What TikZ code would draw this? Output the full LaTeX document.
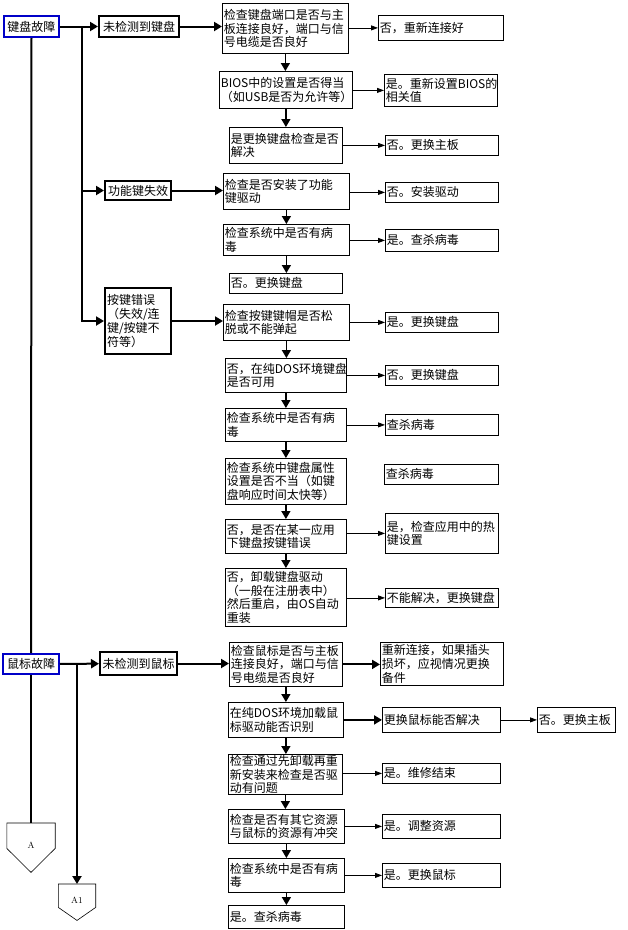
\documentclass[tikz,border=0pt]{standalone}
\usepackage{fontspec}
\newfontfamily\cjk{Noto Sans CJK SC}
\usetikzlibrary{arrows.meta}
\definecolor{faultblue}{RGB}{0,0,200}

\begin{document}
\begin{tikzpicture}[x=1pt, y=-1pt,
   font=\cjk\fontsize{12}{13.7}\selectfont,
   box/.style={draw, line width=0.8pt, anchor=north west, inner xsep=1.5pt, inner ysep=0pt, align=left},
   bx/.style 2 args={box, text width=#1pt, minimum height=#2pt},
   mainbox/.style={draw, line width=2pt, inner sep=1pt, align=center},
   faultbox/.style={mainbox, draw=faultblue},
   conn/.style={inner sep=0pt, font=\rmfamily\fontsize{9}{10}\selectfont},
   thickarrow/.style={line width=2pt, -{Triangle[length=8pt, width=9pt]}},
   downarrow/.style={line width=1.6pt, -{Triangle[length=8pt, width=9pt]}},
   sidearrow/.style={line width=0.8pt, -{Triangle[length=7pt, width=5pt]}}]
   \useasboundingbox (0,0) rectangle (628,930);

   % keyboard
   \node[faultbox, minimum width=55pt, minimum height=21pt] (kb) at (31.5,26.5) {键盘故障};
   \node[mainbox, minimum width=80pt, minimum height=21pt] (kbNo) at (139,26.5) {未检测到键盘};
   \node[mainbox, minimum width=66pt, minimum height=19pt] (kbFn) at (138,190.5) {功能键失效};
   \node[mainbox, minimum width=66pt, minimum height=66pt, text width=62pt, align=left] (kbKey) at (138,321) {按键错误\\（失效/连\\键/按键不\\符等）};
   \coordinate (kbT) at (82,26.5);

   \node[bx={123}{50}] (k1) at (222,3) {检查键盘端口是否与主\\板连接良好，端口与信\\号电缆是否良好};
   \node[bx={122}{25}] (k1r) at (378,15) {否，重新连接好};
   \node[bx={130}{37}] (k2) at (219,71) {BIOS中的设置是否得当\\（如USB是否为允许等）};
   \node[bx={110}{32}] (k2r) at (384,74) {是。重新设置BIOS的\\相关值};
   \node[bx={110}{36}] (k3) at (229,127) {是更换键盘检查是否\\解决};
   \node[bx={110}{20}] (k3r) at (385,135) {否。更换主板};

   \node[bx={123}{36}] (f1) at (223,173) {检查是否安装了功能\\键驱动};
   \node[bx={110}{20}] (f1r) at (385,182) {否。安装驱动};
   \node[bx={123}{31}] (f2) at (223,224) {检查系统中是否有病\\毒};
   \node[bx={110}{22}] (f2r) at (385,229) {是。查杀病毒};
   \node[bx={110}{20}] (f3) at (229,273) {否。更换键盘};

   \node[bx={123}{36}] (e1) at (223,304) {检查按键键帽是否松\\脱或不能弹起};
   \node[bx={110}{20}] (e1r) at (385,312) {是。更换键盘};
   \node[bx={118}{34}] (e2) at (225,358) {否，在纯DOS环境键盘\\是否可用};
   \node[bx={110}{20}] (e2r) at (385,365) {否。更换键盘};
   \node[bx={118}{33}] (e3) at (225,408) {检查系统中是否有病\\毒};
   \node[bx={110}{21}] (e3r) at (385,414) {查杀病毒};
   \node[bx={118}{46}] (e4) at (225,458) {检查系统中键盘属性\\设置是否不当（如键\\盘响应时间太快等）};
   \node[bx={111}{20}] (e4r) at (384,464) {查杀病毒};
   \node[bx={118}{34}] (e5) at (225,519) {否，是否在某一应用\\下键盘按键错误};
   \node[bx={110}{40}] (e5r) at (385,513) {是，检查应用中的热\\键设置};
   \node[bx={118}{58}] (e6) at (225,568) {否，卸载键盘驱动\\（一般在注册表中）\\然后重启，由OS自动\\重装};
   \node[bx={110}{19}] (e6r) at (385,588) {不能解决，更换键盘};

   % mouse
   \node[faultbox, minimum width=56pt, minimum height=20pt] (ms) at (31,664) {鼠标故障};
   \node[mainbox, minimum width=77pt, minimum height=23pt] (msNo) at (138.5,663.5) {未检测到鼠标};
   \coordinate (msT) at (77,664);

   \node[bx={110}{44}] (m1) at (229,642) {检查鼠标是否与主板\\连接良好，端口与信\\号电缆是否良好};
   \node[bx={120}{43}] (m1r) at (380,642) {重新连接，如果插头\\损坏，应视情况更换\\备件};
   \node[bx={112}{35}] (m2) at (228,702) {在纯DOS环境加载鼠\\标驱动能否识别};
   \node[bx={115}{25}] (m2r) at (382,707) {更换鼠标能否解决};
   \node[bx={75}{25}] (m2rr) at (537,707) {否。更换主板};
   \node[bx={111}{40}] (m3) at (228,754) {检查通过先卸载再重\\新安装来检查是否驱\\动有问题};
   \node[bx={115}{20}] (m3r) at (382,763) {是。维修结束};
   \node[bx={113}{34}] (m4) at (228,809) {检查是否有其它资源\\与鼠标的资源有冲突};
   \node[bx={115}{24}] (m4r) at (382,814) {是。调整资源};
   \node[bx={113}{34}] (m5) at (228,858) {检查系统中是否有病\\毒};
   \node[bx={115}{24}] (m5r) at (382,863) {是。更换鼠标};
   \node[bx={113}{23}] (m6) at (228,905) {是。查杀病毒};

   % off-page connectors
   \node[conn, minimum width=48pt, minimum height=49pt, anchor=north] (A) at (31,823) {\raisebox{4pt}{A}};
   \node[conn, minimum width=37pt, minimum height=36pt, anchor=north] (A1) at (77,884) {\raisebox{4pt}{A1}};
   \draw[line width=0.6pt] (A.north west) -- (A.north east) -- ([yshift=24pt]A.south east)
      -- (A.south) -- ([yshift=24pt]A.south west) -- cycle;
   \draw[line width=0.6pt] (A1.north west) -- (A1.north east) -- ([yshift=13pt]A1.south east)
      -- (A1.south) -- ([yshift=13pt]A1.south west) -- cycle;

   \draw[line width=2pt] (kb.south) -- (ms.north);
   \draw[line width=2pt] (ms.south) -- (A.north);

   \path[thickarrow]
    (kb) edge (kbNo)
    (kbNo.east) edge (kbNo.east -| k1.west)
    (kbT) edge [to path={|- (\tikztotarget)}] (kbFn)
    (kbT) edge [to path={|- (\tikztotarget)}] (kbKey)
    (kbFn.east) edge (kbFn.east -| f1.west)
    (kbKey.east) edge (kbKey.east -| e1.west)
    (ms) edge (msNo)
    (msNo.east) edge (msNo.east -| m1.west)
    (msT) edge (msT |- A1.north)
    (m1.east) edge (m1.east -| m1r.west)
    (m2.east |- m2r.west) edge (m2r.west);

   \path[downarrow]
    (k1.south) edge (k1.south |- k2.north)
    (k2.south) edge (k2.south |- k3.north)
    (f1.south) edge (f1.south |- f2.north)
    (f2.south) edge (f2.south |- f3.north)
    (e1.south) edge (e1.south |- e2.north)
    (e2.south) edge (e2.south |- e3.north)
    (e3.south) edge (e3.south |- e4.north)
    (e4.south) edge (e4.south |- e5.north)
    (e5.south) edge (e5.south |- e6.north)
    (m1.south) edge (m1.south |- m2.north)
    (m2.south) edge (m2.south |- m3.north)
    (m3.south) edge (m3.south |- m4.north)
    (m4.south) edge (m4.south |- m5.north)
    (m5.south) edge (m5.south |- m6.north);

   \path[sidearrow]
    (k1.east |- k1r.west) edge (k1r.west)
    (k2.east |- k2r.west) edge (k2r.west)
    (k3.east |- k3r.west) edge (k3r.west)
    (f1.east |- f1r.west) edge (f1r.west)
    (f2.east |- f2r.west) edge (f2r.west)
    (e1.east |- e1r.west) edge (e1r.west)
    (e2.east |- e2r.west) edge (e2r.west)
    (e3.east |- e3r.west) edge (e3r.west)
    (e5.east |- e5r.west) edge (e5r.west)
    (e6.east |- e6r.west) edge (e6r.west)
    (m2r) edge (m2rr)
    (m3.east |- m3r.west) edge (m3r.west)
    (m4.east |- m4r.west) edge (m4r.west)
    (m5.east |- m5r.west) edge (m5r.west);
\end{tikzpicture}
\end{document}
